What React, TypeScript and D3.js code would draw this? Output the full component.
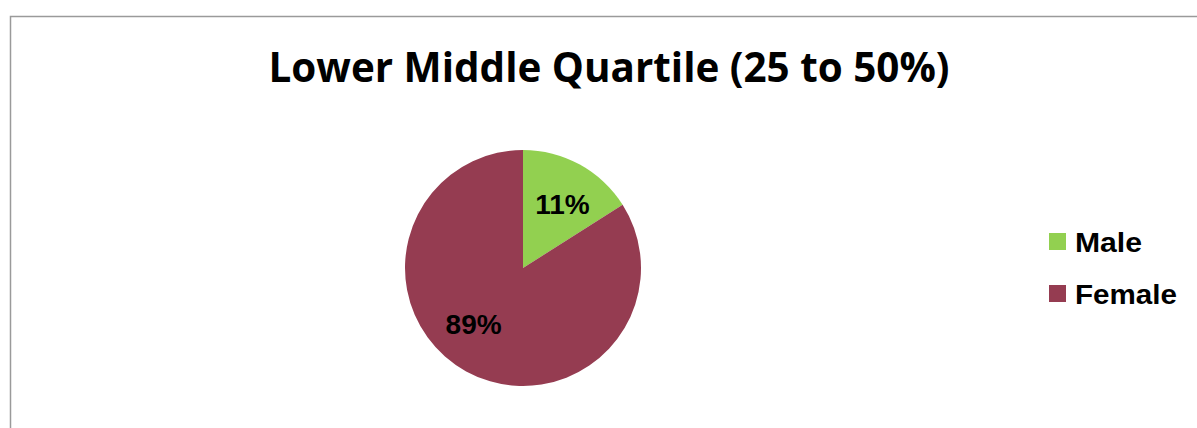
import * as d3 from 'd3'

const title = 'Lower Middle Quartile (25 to 50%)'
const categories = ['Male', 'Female']
// slice sizes as drawn in the picture; the printed labels differ from the geometry
const sliceValues = [16, 84]
const sliceLabels = ['11%', '89%']
const colors = ['#92D050', '#953C51']

const width = 1197
const height = 428

export default function App() {
  const cx = 523
  const cy = 268
  const radius = 118

  const pie = d3.pie<number>().sort(null).value(d => d)
  const arcs = pie(sliceValues)
  const arc = d3.arc<d3.PieArcDatum<number>>().innerRadius(0).outerRadius(radius)
  const labelArc = d3.arc<d3.PieArcDatum<number>>().innerRadius(radius * 0.64).outerRadius(radius * 0.64)
  const labelNudge = [[3, 2], [-13, -10]]

  const legendY = d3.scaleBand().domain(categories).range([216, 320])

  return (
    <svg width={width} height={height} style={{ position: 'absolute', left: 0, top: 0, background: '#fff' }}>
      <rect x={10.5} y={16.5} width={1210} height={440} fill="#fff" stroke="#9a9a9a" strokeWidth={1.5} />
      <text
        x={609}
        y={82}
        textAnchor="middle"
        fontFamily="'Open Sans', sans-serif"
        fontWeight="bold"
        fontSize={41}
        textLength={681}
        lengthAdjust="spacingAndGlyphs"
        fill="#000"
      >
        {title}
      </text>
      <g transform={`translate(${cx},${cy})`}>
        {arcs.map((a, i) => (
          <path key={i} d={arc(a) || ''} fill={colors[i]} />
        ))}
        {arcs.map((a, i) => {
          const [x, y] = labelArc.centroid(a)
          return (
            <text
              key={i}
              x={x + labelNudge[i][0]}
              y={y + labelNudge[i][1]}
              dy="0.36em"
              textAnchor="middle"
              fontFamily="'Liberation Sans', Arial, sans-serif"
              fontWeight="bold"
              fontSize={28}
              fill="#000"
            >
              {sliceLabels[i]}
            </text>
          )
        })}
      </g>
      <g>
        {categories.map((c, i) => {
          const y = legendY(c)! + legendY.bandwidth() / 2
          return (
            <g key={c}>
              <rect x={1049} y={y - 9} width={17} height={17} fill={colors[i]} />
              <text
                x={1075}
                y={y + 9.5}
                fontFamily="'Liberation Sans', Arial, sans-serif"
                fontWeight="bold"
                fontSize={27}
                textLength={c === 'Male' ? 67 : 102}
                lengthAdjust="spacingAndGlyphs"
                fill="#000"
              >
                {c}
              </text>
            </g>
          )
        })}
      </g>
    </svg>
  )
}
